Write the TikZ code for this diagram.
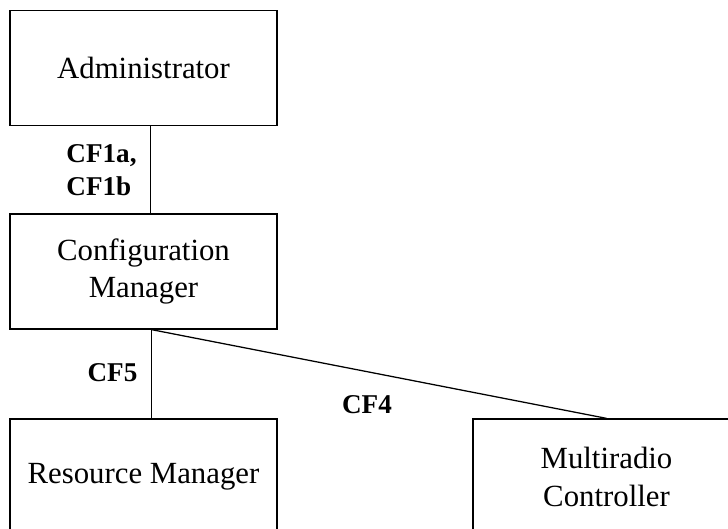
\documentclass[tikz,border=0pt]{standalone}
\usepackage{fontspec}
\setmainfont{Liberation Serif}

\begin{document}
\begin{tikzpicture}[line width=0.9pt,
    blockbox/.style={draw, minimum width=6.675cm, minimum height=2.875cm,
      align=center, inner sep=0pt, font=\fontsize{21.9}{27}\selectfont},
    cflabel/.style={align=left, inner sep=0pt, font=\fontsize{19.3}{23.5}\selectfont\bfseries}]
        \clip (0,0) rectangle (18.2,13.225);

        \node[blockbox] (admin) at (3.5875,11.525) {Administrator};
        \node[blockbox] (config) at (3.5875,6.4375) {Configuration\\Manager};
        \node[blockbox] (resource) at (3.5875,1.3125) {Resource Manager};
        \node[blockbox] (multiradio) at (15.1625,1.3125) {Multiradio\\Controller};

        \draw ([xshift=0.17cm]admin.south) -- ([xshift=0.17cm]config.north);
        \draw ([xshift=0.2cm]config.south) -- ([xshift=0.2cm]resource.north);
        \draw ([xshift=0.2cm]config.south) -- (multiradio.north);

        \node[cflabel] (cf1) at (2.5375,8.9625) {CF1a,\\CF1b};
        \node[cflabel] (cf5) at (2.8125,3.9) {CF5};
        \node[cflabel] (cf4) at (9.175,3.1) {CF4};
      \end{tikzpicture}
\end{document}
